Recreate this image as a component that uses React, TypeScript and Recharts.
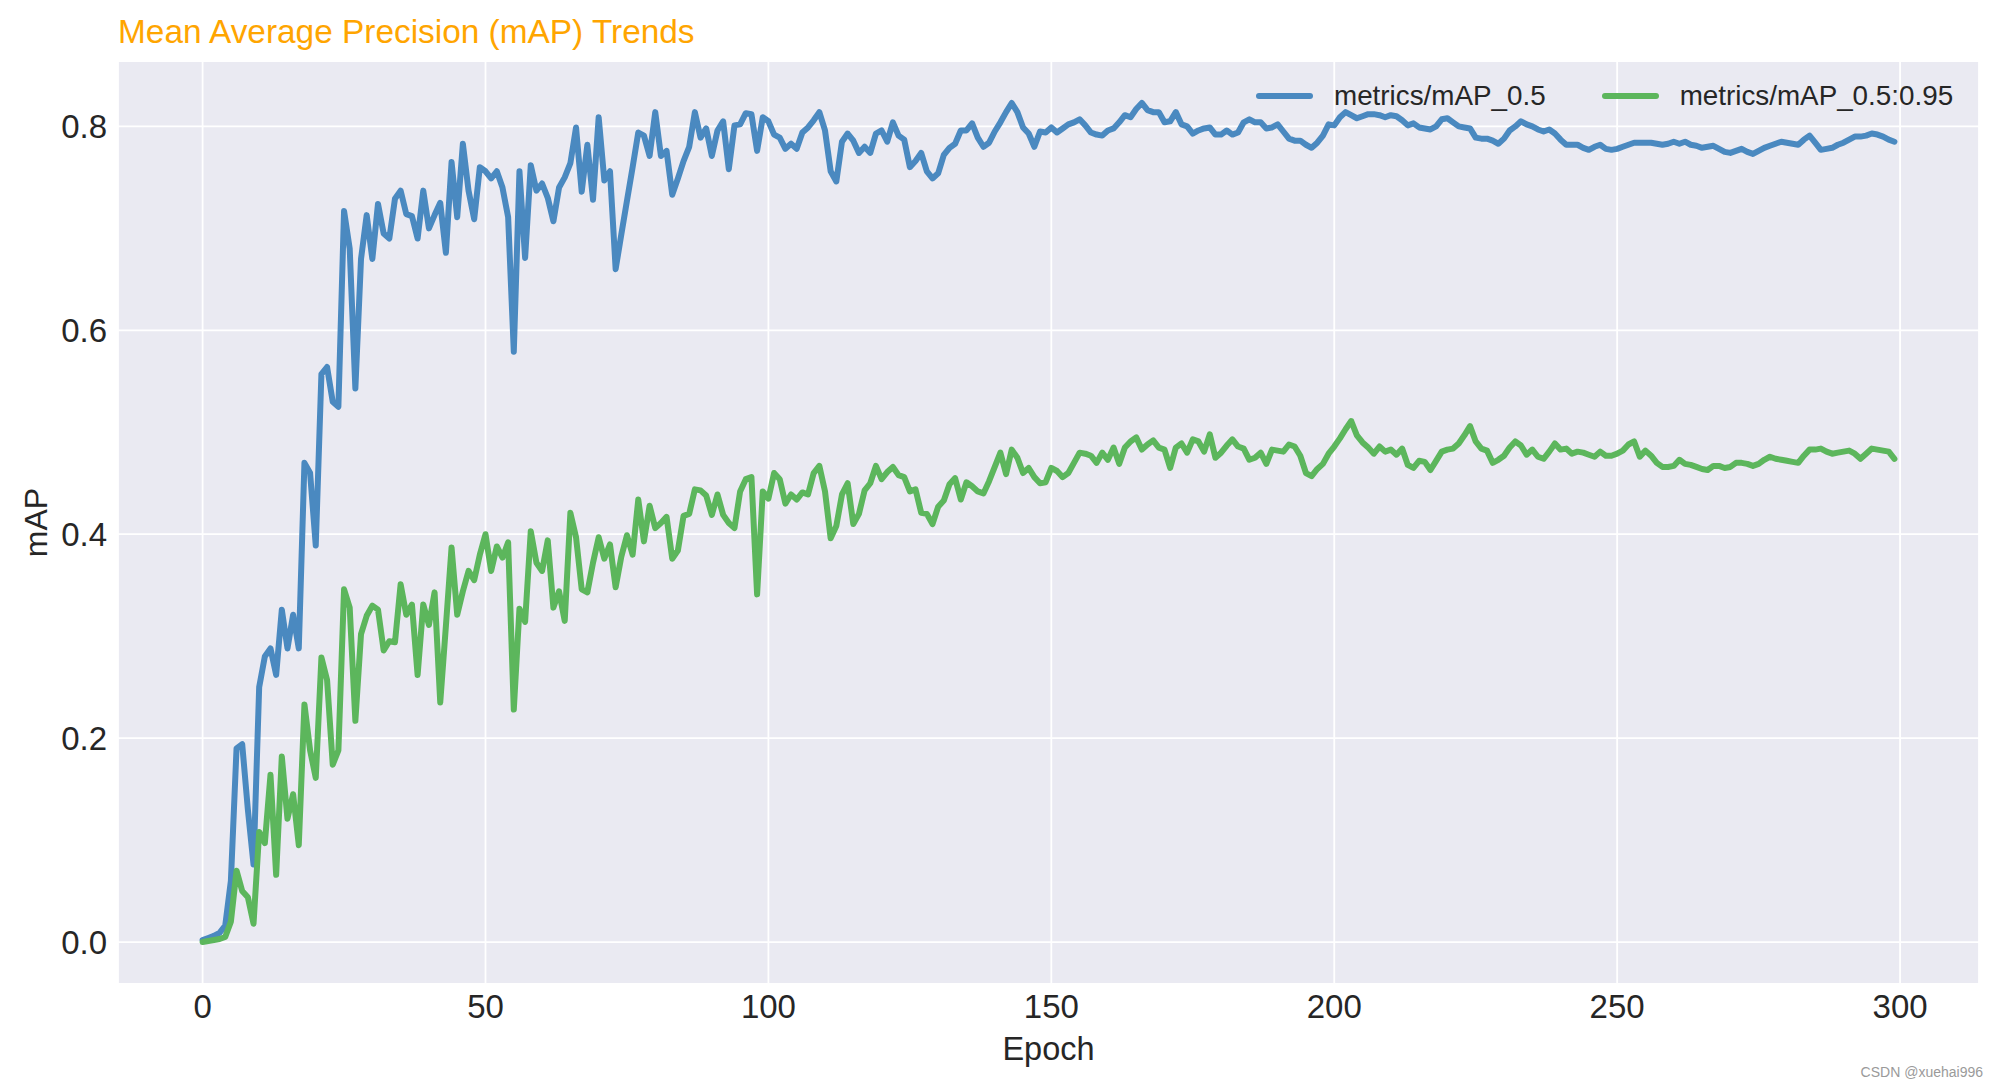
import React from 'react';
import { LineChart, Line, XAxis, YAxis, CartesianGrid, Legend, Label } from 'recharts';

const FONT = '"Liberation Sans", Arial, Helvetica, sans-serif';
const TITLE = 'Mean Average Precision (mAP) Trends';
const X_LABEL = 'Epoch';
const Y_LABEL = 'mAP';
const SERIES_NAMES = ['metrics/mAP_0.5', 'metrics/mAP_0.5:0.95'];
const X_TICKS = [0, 50, 100, 150, 200, 250, 300];
const Y_TICKS = [0, 0.2, 0.4, 0.6, 0.8];
const WATERMARK = 'CSDN @xuehai996';

// metrics/mAP_0.5 per epoch (0..299)
const MAP50 = [
  0.002, 0.004, 0.006, 0.009, 0.016, 0.06, 0.19, 0.194, 0.13, 0.076,
  0.25, 0.28, 0.288, 0.262, 0.326, 0.288, 0.321, 0.288, 0.47, 0.46,
  0.389, 0.557, 0.564, 0.53, 0.525, 0.717, 0.68, 0.543, 0.67, 0.713,
  0.67, 0.724, 0.695, 0.69, 0.729, 0.737, 0.714, 0.712, 0.69, 0.737,
  0.7, 0.713, 0.725, 0.676, 0.765, 0.711, 0.783, 0.737, 0.709, 0.76,
  0.756, 0.749, 0.756, 0.74, 0.711, 0.579, 0.756, 0.671, 0.762, 0.737,
  0.744, 0.73, 0.707, 0.74, 0.75, 0.764, 0.799, 0.736, 0.782, 0.728,
  0.809, 0.747, 0.756, 0.66, 0.694, 0.727, 0.76, 0.794, 0.791, 0.771,
  0.814, 0.771, 0.776, 0.733, 0.749, 0.766, 0.78, 0.814, 0.789, 0.798,
  0.771, 0.796, 0.805, 0.758, 0.801, 0.802, 0.813, 0.812, 0.776, 0.809,
  0.805, 0.792, 0.789, 0.778, 0.783, 0.778, 0.794, 0.799, 0.806, 0.814,
  0.796, 0.756, 0.746, 0.785, 0.793, 0.786, 0.774, 0.78, 0.774, 0.793,
  0.796, 0.785, 0.804, 0.791, 0.787, 0.76, 0.766, 0.774, 0.756, 0.749,
  0.754, 0.772, 0.779, 0.783, 0.796, 0.796, 0.803, 0.789, 0.78, 0.784,
  0.795, 0.804, 0.814, 0.823, 0.814, 0.799, 0.793, 0.78, 0.795, 0.794,
  0.799, 0.794, 0.798, 0.802, 0.804, 0.807, 0.801, 0.794, 0.792, 0.791,
  0.796, 0.798, 0.804, 0.811, 0.809, 0.817, 0.823, 0.816, 0.814, 0.814,
  0.804, 0.805, 0.814, 0.802, 0.8, 0.793, 0.796, 0.798, 0.799, 0.792,
  0.792, 0.796, 0.792, 0.794, 0.804, 0.807, 0.804, 0.804, 0.798, 0.799,
  0.802, 0.795, 0.788, 0.786, 0.786, 0.782, 0.779, 0.784, 0.791, 0.802,
  0.801, 0.809, 0.814, 0.811, 0.808, 0.81, 0.812, 0.812, 0.811, 0.809,
  0.811, 0.81, 0.806, 0.801, 0.803, 0.799, 0.798, 0.797, 0.8, 0.807,
  0.808, 0.804, 0.8, 0.799, 0.798, 0.789, 0.788, 0.788, 0.786, 0.783,
  0.788, 0.796, 0.8, 0.805, 0.802, 0.8, 0.797, 0.795, 0.797, 0.793,
  0.787, 0.782, 0.782, 0.782, 0.779, 0.777, 0.78, 0.782, 0.778, 0.777,
  0.778, 0.78, 0.782, 0.784, 0.784, 0.784, 0.784, 0.783, 0.782, 0.783,
  0.785, 0.783, 0.785, 0.782, 0.781, 0.779, 0.78, 0.781, 0.778, 0.775,
  0.774, 0.776, 0.778, 0.775, 0.773, 0.776, 0.779, 0.781, 0.783, 0.785,
  0.784, 0.783, 0.782, 0.787, 0.791, 0.784, 0.777, 0.778, 0.779, 0.782,
  0.784, 0.787, 0.79, 0.79, 0.791, 0.793, 0.792, 0.79, 0.787, 0.785,
];

// metrics/mAP_0.5:0.95 per epoch (0..299)
const MAP50_95 = [
  0.0, 0.001, 0.002, 0.003, 0.005, 0.02, 0.07, 0.05, 0.044, 0.018,
  0.108, 0.097, 0.164, 0.066, 0.182, 0.121, 0.145, 0.095, 0.233, 0.188,
  0.161, 0.279, 0.257, 0.174, 0.188, 0.346, 0.328, 0.217, 0.302, 0.32,
  0.33, 0.326, 0.286, 0.295, 0.294, 0.351, 0.321, 0.331, 0.262, 0.331,
  0.311, 0.343, 0.235, 0.31, 0.387, 0.321, 0.344, 0.364, 0.355, 0.38,
  0.4, 0.364, 0.388, 0.377, 0.392, 0.228, 0.327, 0.314, 0.403, 0.372,
  0.364, 0.394, 0.328, 0.344, 0.315, 0.421, 0.397, 0.346, 0.343, 0.372,
  0.397, 0.376, 0.39, 0.348, 0.378, 0.399, 0.38, 0.434, 0.393, 0.428,
  0.406, 0.411, 0.417, 0.376, 0.384, 0.418, 0.42, 0.444, 0.443, 0.438,
  0.419, 0.439, 0.419, 0.411, 0.406, 0.442, 0.454, 0.456, 0.341, 0.442,
  0.435, 0.46, 0.454, 0.43, 0.439, 0.434, 0.441, 0.439, 0.46, 0.467,
  0.442, 0.396, 0.408, 0.439, 0.45, 0.41, 0.42, 0.443, 0.45, 0.467,
  0.454, 0.461, 0.466, 0.458, 0.456, 0.442, 0.444, 0.421, 0.42, 0.41,
  0.427, 0.433, 0.449, 0.455, 0.434, 0.451, 0.447, 0.442, 0.44, 0.452,
  0.466, 0.48, 0.459, 0.483, 0.475, 0.46, 0.465, 0.456, 0.45, 0.451,
  0.465, 0.462, 0.456, 0.46, 0.47, 0.48, 0.479, 0.477, 0.47, 0.48,
  0.473, 0.485, 0.469, 0.485, 0.491, 0.495, 0.483, 0.488, 0.492, 0.485,
  0.483, 0.465, 0.485, 0.489, 0.48, 0.493, 0.491, 0.481, 0.498, 0.475,
  0.48, 0.487, 0.493, 0.486, 0.484, 0.473, 0.475, 0.48, 0.469, 0.483,
  0.482, 0.481, 0.488, 0.486, 0.477, 0.46, 0.457, 0.464, 0.469, 0.479,
  0.486, 0.494, 0.503, 0.511, 0.497, 0.49, 0.485, 0.479, 0.486, 0.481,
  0.483, 0.478, 0.484, 0.468, 0.465, 0.472, 0.471, 0.463, 0.472, 0.481,
  0.483, 0.484, 0.489, 0.497, 0.506, 0.491, 0.484, 0.482, 0.47, 0.473,
  0.477, 0.485, 0.491, 0.487, 0.478, 0.483, 0.476, 0.474, 0.481, 0.489,
  0.483, 0.484, 0.479, 0.481, 0.48, 0.478, 0.476, 0.481, 0.477, 0.477,
  0.479, 0.482, 0.488, 0.491, 0.476, 0.482, 0.477, 0.47, 0.466, 0.466,
  0.467, 0.473, 0.469, 0.468, 0.466, 0.464, 0.463, 0.467, 0.467, 0.465,
  0.466, 0.47, 0.47, 0.469, 0.467, 0.469, 0.473, 0.476, 0.474, 0.473,
  0.472, 0.471, 0.47, 0.477, 0.483, 0.483, 0.484, 0.481, 0.479, 0.48,
  0.481, 0.482, 0.479, 0.474, 0.479, 0.484, 0.483, 0.482, 0.481, 0.474,
];

const COLORS = ['#4A89C0', '#5CB65C'];
const TEXT_COLOR = '#262626';

const data = MAP50.map((v, i) => ({ epoch: i, map50: v, map5095: MAP50_95[i] }));

const renderLegend = (props: any) => {
  const payload = props.payload || [];
  return (
    <div
      style={{
        display: 'flex',
        alignItems: 'center',
        height: 40,
        fontFamily: FONT,
        fontSize: 27.8,
        color: TEXT_COLOR,
        whiteSpace: 'nowrap',
      }}
    >
      {payload.map((p: any, i: number) => (
        <div key={i} style={{ display: 'flex', alignItems: 'center', marginLeft: i ? 56 : 0 }}>
          <span
            style={{
              display: 'inline-block',
              width: 57,
              height: 6,
              borderRadius: 3,
              background: p.color,
              marginRight: 21,
            }}
          />
          <span>{p.value}</span>
        </div>
      ))}
    </div>
  );
};

const YLabel = (props: any) => {
  const vb = props.viewBox || { x: 0, y: 0, width: 0, height: 0 };
  const cx = vb.x + 36;
  const cy = vb.y + vb.height / 2;
  return (
    <text
      x={cx}
      y={cy}
      transform={`rotate(-90 ${cx} ${cy})`}
      textAnchor="middle"
      dominantBaseline="central"
      fontFamily={FONT}
      fontSize={32}
      fill={TEXT_COLOR}
    >
      {Y_LABEL}
    </text>
  );
};

const XLabel = (props: any) => {
  const vb = props.viewBox || { x: 0, y: 0, width: 0, height: 0 };
  return (
    <text
      x={vb.x + vb.width / 2}
      y={vb.y + 76}
      textAnchor="middle"
      fontFamily={FONT}
      fontSize={32.5}
      fill={TEXT_COLOR}
    >
      {X_LABEL}
    </text>
  );
};

export default function App() {
  return (
    <div style={{ position: 'absolute', left: 0, top: 0, width: 1998, height: 1087, background: '#ffffff' }}>
      <LineChart
        width={1998}
        height={1087}
        data={data}
        margin={{ top: 61, right: 19, bottom: 0, left: 0 }}
      >
        <CartesianGrid stroke="#ffffff" strokeWidth={1.8} fill="#EAEAF2" fillOpacity={1} />
        <XAxis
          dataKey="epoch"
          type="number"
          domain={[-14.95, 313.95]}
          ticks={X_TICKS}
          interval={0}
          allowDataOverflow
          tickLine={false}
          axisLine={false}
          tickSize={0}
          tickMargin={11}
          height={103}
          tick={{ fill: TEXT_COLOR, fontSize: 33, fontFamily: FONT }}
        >
          <Label content={<XLabel />} />
        </XAxis>
        <YAxis
          type="number"
          domain={[-0.04115, 0.86415]}
          ticks={Y_TICKS}
          interval={0}
          allowDataOverflow
          tickLine={false}
          axisLine={false}
          tickSize={0}
          tickMargin={11}
          width={118}
          tickFormatter={(v: number) => v.toFixed(1)}
          tick={{ fill: TEXT_COLOR, fontSize: 33, fontFamily: FONT }}
        >
          <Label content={<YLabel />} />
        </YAxis>
        <Legend
          layout="horizontal"
          verticalAlign="middle"
          align="center"
          wrapperStyle={{ top: 76, left: 1256, width: 'auto' }}
          content={renderLegend}
        />
        <Line
          type="linear"
          dataKey="map50"
          name={SERIES_NAMES[0]}
          stroke={COLORS[0]}
          strokeWidth={6}
          strokeLinejoin="round"
          strokeLinecap="round"
          dot={false}
          activeDot={false}
          isAnimationActive={false}
        />
        <Line
          type="linear"
          dataKey="map5095"
          name={SERIES_NAMES[1]}
          stroke={COLORS[1]}
          strokeWidth={6}
          strokeLinejoin="round"
          strokeLinecap="round"
          dot={false}
          activeDot={false}
          isAnimationActive={false}
        />
      </LineChart>
      <svg
        width={1998}
        height={1087}
        style={{ position: 'absolute', left: 0, top: 0, pointerEvents: 'none' }}
      >
        <text x={118} y={43} fontFamily={FONT} fontSize={33.4} fill="#FFA500">
          {TITLE}
        </text>
        <text x={1983} y={1077} textAnchor="end" fontFamily={FONT} fontSize={14} fill="#9a9a9a">
          {WATERMARK}
        </text>
      </svg>
    </div>
  );
}
